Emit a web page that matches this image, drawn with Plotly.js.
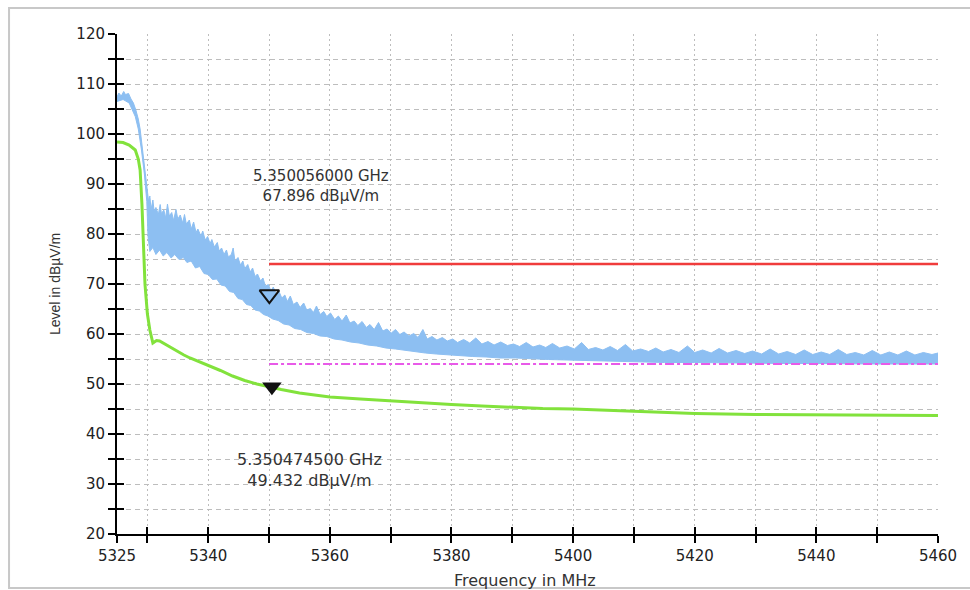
<!DOCTYPE html>
<html>
<head>
<meta charset="utf-8">
<script src="https://cdn.plot.ly/plotly-3.0.1.min.js"></script>
<style>html,body{margin:0;padding:0;background:#fff;}#chart{width:970px;height:590px;}</style>
</head>
<body>
<div id="chart"></div>
<script>
// ---- data ----
const blueUpperFreq = [5325.0,5325.3,5325.7,5326.1,5326.4,5326.9,5327.3,5327.7,5328.1,5328.5,5328.8,5329.1,5329.4,5329.7,5330.0,5330.2,5330.4,5330.6,5330.9,5331.1,5331.4,5331.8,5332.1,5332.3,5332.7,5333.0,5333.3,5333.6,5334.0,5334.3,5334.7,5335.0,5335.4,5335.8,5336.1,5336.4,5336.9,5337.2,5337.6,5338.0,5338.3,5338.8,5339.1,5339.5,5339.9,5340.3,5340.6,5341.0,5341.5,5341.8,5342.2,5342.6,5343.0,5343.3,5343.8,5344.1,5344.4,5344.9,5345.3,5345.7,5346.0,5346.5,5346.9,5347.3,5347.7,5348.1,5348.6,5349.0,5349.4,5349.9,5350.3,5350.7,5351.2,5351.6,5352.1,5352.6,5353.0,5353.5,5354.0,5354.6,5355.1,5355.7,5356.2,5356.8,5357.3,5357.8,5358.4,5359.0,5359.5,5360.1,5360.8,5361.4,5362.0,5362.7,5363.3,5364.0,5364.6,5365.3,5366.0,5366.6,5367.3,5368.0,5368.7,5369.4,5370.1,5370.8,5371.5,5372.2,5373.0,5373.8,5374.5,5375.3,5376.0,5376.8,5377.6,5378.5,5379.3,5380.2,5381.0,5382.0,5383.0,5384.0,5385.0,5386.0,5387.0,5388.1,5389.2,5390.2,5391.2,5392.3,5393.4,5394.5,5395.5,5396.6,5397.8,5399.0,5400.2,5401.4,5402.5,5403.7,5404.9,5406.1,5407.3,5408.6,5409.8,5411.1,5412.4,5413.6,5414.8,5416.1,5417.4,5418.8,5420.0,5421.3,5422.7,5424.0,5425.4,5426.8,5428.2,5429.5,5431.0,5432.4,5433.8,5435.2,5436.6,5438.0,5439.4,5440.8,5442.2,5443.6,5445.0,5446.4,5447.8,5449.2,5450.6,5452.0,5453.4,5454.8,5456.2,5457.6,5459.0,5460.0];
const blueUpperLevel = [107.4,108.2,107.6,108.5,107.9,108.1,107.0,106.2,104.8,103.0,101.0,97.8,94.6,91.6,89.0,86.5,87.6,84.9,86.8,84.6,85.3,83.9,85.9,84.1,84.8,83.2,86.0,83.6,84.3,82.7,84.9,83.0,83.8,82.2,83.9,82.0,82.8,81.0,82.4,80.3,81.0,79.6,80.6,78.8,79.5,78.1,78.9,77.4,78.3,76.6,77.2,75.9,76.8,75.4,75.9,77.2,74.6,75.3,73.8,74.6,73.1,73.9,72.4,73.2,71.5,72.0,70.6,71.2,69.6,69.9,68.6,69.4,67.9,68.6,67.2,67.8,66.5,67.6,65.9,66.4,65.3,66.2,64.8,65.1,64.3,65.6,63.9,64.5,63.5,64.2,62.9,63.6,62.6,63.8,62.2,62.6,61.7,62.5,61.3,61.9,60.9,62.3,60.6,61.0,60.2,60.9,59.9,60.4,59.6,60.1,59.3,60.9,59.0,59.5,58.8,59.3,58.6,59.0,58.3,58.9,58.2,59.2,58.0,58.5,57.8,58.4,57.7,58.0,57.5,58.3,57.4,57.8,57.3,58.1,57.2,57.6,57.0,58.3,56.9,57.3,56.8,57.5,56.7,57.9,56.6,57.0,56.5,57.2,56.4,56.9,56.3,57.6,56.3,56.8,56.2,57.1,56.2,56.7,56.1,56.6,56.0,57.0,56.0,56.5,55.9,56.8,55.9,56.4,55.9,56.9,55.9,56.3,55.8,56.7,55.8,56.4,55.8,56.6,55.8,56.3,55.9,56.2];
const blueLowerFreq = [5325,5326,5327,5327.5,5328,5328.5,5329,5329.5,5329.9,5330.1,5330.4,5330.9,5331.4,5332.0,5332.6,5333.2,5333.9,5334.5,5335.2,5335.9,5336.5,5337.2,5337.9,5338.6,5339.3,5340.0,5340.7,5341.4,5342.1,5342.8,5343.5,5344.2,5344.9,5345.6,5346.3,5347.0,5347.7,5348.4,5349.1,5349.8,5350.6,5351.5,5352.4,5353.3,5354.2,5355.2,5356.2,5357.3,5358.4,5359.5,5360.7,5362,5363.4,5364.8,5366.2,5367.7,5369.2,5370.8,5372.4,5374,5375.7,5377.5,5379.4,5381.4,5383.5,5385.7,5388,5390.5,5393,5396,5399,5402,5406,5410,5415,5420,5425,5430,5435,5440,5445,5450,5455,5460];
const blueLowerLevel = [106.5,106.9,106.2,105.0,103.5,101.0,97.0,92.0,86.5,79.5,76.5,77.3,75.9,76.8,75.6,76.3,75.2,75.9,74.9,75.3,74.3,74.6,73.2,73.5,72.1,71.9,70.9,71.0,69.8,69.6,68.5,68.3,67.1,66.9,65.9,65.7,64.8,64.6,63.9,63.6,63.0,62.7,62.0,61.8,61.1,60.9,60.3,60.1,59.6,59.5,59.0,58.8,58.4,58.2,57.8,57.6,57.2,57.0,56.7,56.5,56.2,56.0,55.8,55.7,55.5,55.4,55.2,55.2,55.0,54.9,54.8,54.7,54.5,54.5,54.3,54.3,54.2,54.2,54.1,54.1,54.0,54.0,54.0,54.0];
const greenFreq = [5325,5326,5327,5328,5328.5,5328.8,5329.1,5329.3,5329.6,5330.0,5330.4,5330.9,5331.5,5332,5333,5334,5335,5336,5337,5338,5340,5342,5344,5346,5348,5350,5352,5355,5360,5365,5370,5375,5380,5385,5390,5395,5400,5405,5410,5415,5420,5430,5440,5450,5460];
const greenLevel = [98.4,98.3,97.8,96.8,95.0,92.8,86.0,78.0,70.0,64.0,60.8,58.2,58.7,58.6,57.9,57.2,56.4,55.8,55.2,54.7,53.8,52.7,51.6,50.7,50.0,49.4,48.9,48.2,47.4,47.0,46.6,46.2,45.9,45.6,45.3,45.1,45.0,44.8,44.6,44.3,44.1,43.9,43.8,43.8,43.7];
const limitFreq = [5350, 5460];
const peakLimit = [74, 74];
const avgLimit = [54, 54];
const markerFreq = [5350.056, 5350.4745];
const markerLevel = [67.896, 49.432];
const markerText1 = "5.350056000 GHz<br>67.896 dBµV/m";
const markerText2 = "5.350474500 GHz<br>49.432 dBµV/m";
const xTickVals = [5325,5330,5340,5350,5360,5370,5380,5390,5400,5410,5420,5430,5440,5450,5460];
const xTickText = ["5325","","5340","","5360","","5380","","5400","","5420","","5440","","5460"];
const yTickVals = [20,25,30,35,40,45,50,55,60,65,70,75,80,85,90,95,100,105,110,115,120];
const yTickText = ["20","","30","","40","","50","","60","","70","","80","","90","","100","","110","","120"];
const xRange = [5325, 5460];
const yRange = [20, 120];

const blue = '#8dbff2';
const tickFont = {family: 'DejaVu Sans', size: 15, color: '#222'};

const traces = [
  {x: blueLowerFreq, y: blueLowerLevel, type: 'scatter', mode: 'lines', line: {color: blue, width: 1}, hoverinfo: 'skip', showlegend: false},
  {x: blueUpperFreq, y: blueUpperLevel, type: 'scatter', mode: 'lines', fill: 'tonexty', fillcolor: blue, line: {color: blue, width: 1}, showlegend: false},
  {x: greenFreq, y: greenLevel, type: 'scatter', mode: 'lines', line: {color: '#82e23c', width: 3}, showlegend: false},
  {x: limitFreq, y: avgLimit, type: 'scatter', mode: 'lines', line: {color: '#e85ae8', width: 2, dash: 'dashdot'}, showlegend: false},
  {x: limitFreq, y: peakLimit, type: 'scatter', mode: 'lines', line: {color: '#f03c3c', width: 2.5}, xaxis: 'x2', yaxis: 'y2', showlegend: false},
  {x: [markerFreq[0]], y: [markerLevel[0]], type: 'scatter', mode: 'markers', marker: {symbol: 'triangle-down-open', size: 17, color: '#111', line: {width: 2, color: '#111'}}, showlegend: false},
  {x: [markerFreq[1]], y: [markerLevel[1]], type: 'scatter', mode: 'markers', marker: {symbol: 'triangle-down', size: 17, color: '#111'}, showlegend: false}
];

const gridColor = '#bdbdbd';
const layout = {
  width: 970, height: 590,
  margin: {l: 117, r: 32, t: 34, b: 56},
  paper_bgcolor: '#ffffff', plot_bgcolor: '#ffffff',
  showlegend: false,
  xaxis: {
    range: xRange, tickmode: 'array', tickvals: xTickVals, ticktext: xTickText,
    ticks: 'outside', ticklen: 7, tickwidth: 2, tickcolor: '#000',
    showline: true, linecolor: '#000', linewidth: 2, zeroline: false,
    showgrid: true, gridcolor: gridColor, gridwidth: 1, griddash: '2px,3px',
    tickfont: tickFont
  },
  yaxis: {
    range: yRange, tickmode: 'array', tickvals: yTickVals, ticktext: yTickText,
    ticks: 'outside', ticklen: 7, tickwidth: 2, tickcolor: '#000',
    showline: true, linecolor: '#000', linewidth: 2, zeroline: false,
    showgrid: true, gridcolor: gridColor, gridwidth: 1, griddash: '5px,4px',
    tickfont: tickFont
  },
  xaxis2: {
    overlaying: 'x', anchor: 'y2', range: xRange, tickmode: 'array', tickvals: xTickVals,
    ticks: 'inside', ticklen: 7, tickwidth: 2, tickcolor: '#000',
    showticklabels: false, showgrid: false, showline: false, zeroline: false, side: 'bottom'
  },
  yaxis2: {
    overlaying: 'y', anchor: 'x2', range: yRange, tickmode: 'array', tickvals: yTickVals,
    ticks: 'inside', ticklen: 7, tickwidth: 2, tickcolor: '#000',
    showticklabels: false, showgrid: false, showline: false, zeroline: false, side: 'left'
  },
  annotations: [
    {text: markerText1, x: 5358.6, y: 89.6, xref: 'x', yref: 'y', showarrow: false, xanchor: 'center', yanchor: 'middle', align: 'center',
     font: {family: 'DejaVu Sans', size: 15, color: '#333'}},
    {text: markerText2, x: 5356.7, y: 32.8, xref: 'x', yref: 'y', showarrow: false, xanchor: 'center', yanchor: 'middle', align: 'center',
     font: {family: 'DejaVu Sans', size: 16, color: '#333'}},
    {text: 'Level in dBµV/m', x: -0.0755, y: 0.5, xref: 'paper', yref: 'paper', showarrow: false, textangle: -90, xanchor: 'center', yanchor: 'middle',
     font: {family: 'Liberation Sans', size: 14, color: '#333'}},
    {text: 'Frequency in MHz', x: 0.497, y: -0.092, xref: 'paper', yref: 'paper', showarrow: false, xanchor: 'center', yanchor: 'middle',
     font: {family: 'DejaVu Sans', size: 16, color: '#333'}}
  ],
  shapes: [
    {type: 'rect', xref: 'paper', yref: 'paper', x0: -0.1315, x1: 1.06, y0: -0.108, y1: 1.052, line: {color: '#c8c8c8', width: 2}, fillcolor: 'rgba(0,0,0,0)', layer: 'below'}
  ]
};

Plotly.newPlot('chart', traces, layout, {staticPlot: true, displayModeBar: false});
</script>
</body>
</html>
